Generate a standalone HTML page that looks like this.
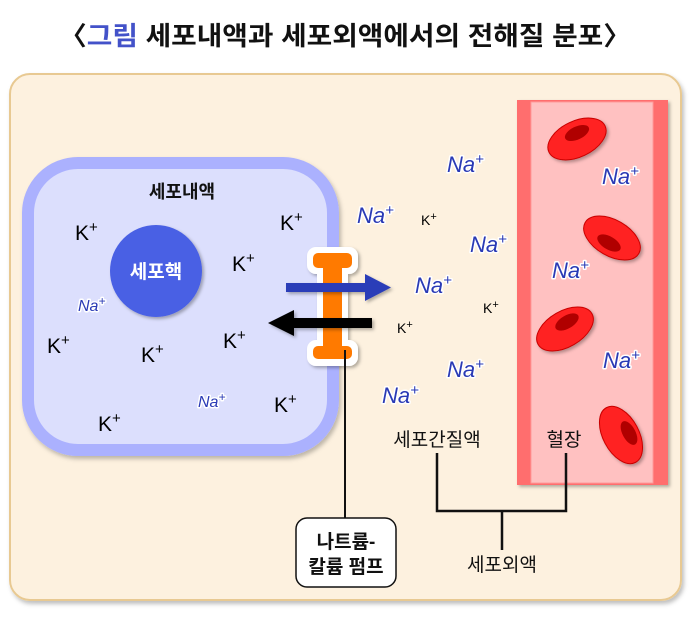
<!DOCTYPE html>
<html><head><meta charset="utf-8">
<style>
html,body{margin:0;padding:0;background:#fff;}
svg{display:block;}
.kr{font-family:"Liberation Sans","Noto Sans CJK KR",sans-serif;}
.k{font-family:"Liberation Sans",sans-serif;font-size:21px;fill:#000;}
.ks{font-family:"Liberation Sans",sans-serif;font-size:14px;fill:#000;}
.na{font-family:"Liberation Sans",sans-serif;font-style:italic;font-size:22px;fill:#2a3ab5;stroke:#fff;stroke-width:3;paint-order:stroke;stroke-linejoin:round;}
.nas{font-family:"Liberation Sans",sans-serif;font-style:italic;font-size:16px;fill:#2a3ab5;stroke:#fff;stroke-width:3;paint-order:stroke;stroke-linejoin:round;}
</style></head>
<body>
<svg width="690" height="623" viewBox="0 0 690 623" xmlns="http://www.w3.org/2000/svg">
<defs>
<filter id="sh" x="-10%" y="-10%" width="130%" height="130%"><feDropShadow dx="2" dy="3" stdDeviation="2" flood-color="#000" flood-opacity="0.25"/></filter>
<filter id="sh2" x="-20%" y="-20%" width="150%" height="150%"><feDropShadow dx="2" dy="2" stdDeviation="1.5" flood-color="#000" flood-opacity="0.3"/></filter>
</defs>

<!-- title -->
<text x="345" y="45" text-anchor="middle" class="kr" font-size="26" font-weight="bold" fill="#111" textLength="572" lengthAdjust="spacingAndGlyphs">〈<tspan fill="#4352c9">그림</tspan> 세포내액과 세포외액에서의 전해질 분포〉</text>

<!-- panel -->
<rect x="10" y="74" width="671" height="526" rx="20" fill="#fdf1df" stroke="#e8c992" stroke-width="2" filter="url(#sh)"/>

<!-- cell -->
<rect x="28" y="163" width="305" height="287" rx="50" fill="#dcdffd" stroke="#abb1fe" stroke-width="12" filter="url(#sh)"/>
<text x="182" y="198" text-anchor="middle" class="kr" font-size="18" font-weight="bold" fill="#111">세포내액</text>

<circle cx="156" cy="271" r="46" fill="#4a60e4" filter="url(#sh2)"/>
<text x="156" y="278" text-anchor="middle" class="kr" font-size="19" font-weight="bold" fill="#fff">세포핵</text>

<!-- K+ inside -->
<text class="k" x="75" y="240">K<tspan font-size="15" dy="-8">+</tspan></text>
<text class="k" x="280" y="230">K<tspan font-size="15" dy="-8">+</tspan></text>
<text class="k" x="232" y="271">K<tspan font-size="15" dy="-8">+</tspan></text>
<text class="k" x="47" y="353">K<tspan font-size="15" dy="-8">+</tspan></text>
<text class="k" x="141" y="362">K<tspan font-size="15" dy="-8">+</tspan></text>
<text class="k" x="223" y="348">K<tspan font-size="15" dy="-8">+</tspan></text>
<text class="k" x="98" y="431">K<tspan font-size="15" dy="-8">+</tspan></text>
<text class="k" x="274" y="412">K<tspan font-size="15" dy="-8">+</tspan></text>
<text class="nas" x="78" y="311">Na<tspan font-size="12" dy="-6">+</tspan></text>
<text class="nas" x="198" y="407">Na<tspan font-size="12" dy="-6">+</tspan></text>

<!-- blood vessel -->
<rect x="517" y="100" width="151" height="385" fill="#ff6e6e" filter="url(#sh2)"/>
<rect x="531" y="102" width="122" height="381" fill="#ffc1c1" stroke="#ff9a9a" stroke-width="1"/>

<!-- RBCs -->
<g filter="url(#sh2)">
<ellipse cx="577" cy="139" rx="31" ry="18" transform="rotate(-25 577 139)" fill="#ff2020" stroke="#c80000" stroke-width="1"/>
<ellipse cx="612" cy="238" rx="31" ry="18" transform="rotate(30 612 238)" fill="#ff2020" stroke="#c80000" stroke-width="1"/>
<ellipse cx="565" cy="329" rx="31" ry="18" transform="rotate(-30 565 329)" fill="#ff2020" stroke="#c80000" stroke-width="1"/>
<ellipse cx="621" cy="435" rx="31" ry="18" transform="rotate(62 621 435)" fill="#ff2020" stroke="#c80000" stroke-width="1"/>
</g>
<ellipse cx="577" cy="133" rx="13" ry="6.5" transform="rotate(-25 577 133)" fill="#b00000"/>
<ellipse cx="609" cy="243" rx="13" ry="6.5" transform="rotate(30 609 243)" fill="#b00000"/>
<ellipse cx="567" cy="322" rx="13" ry="6.5" transform="rotate(-30 567 322)" fill="#b00000"/>
<ellipse cx="629" cy="433" rx="13" ry="6.5" transform="rotate(62 629 433)" fill="#b00000"/>

<!-- Na+ in vessel -->
<text class="na" x="602" y="184">Na<tspan font-size="15" dy="-8">+</tspan></text>
<text class="na" x="552" y="278">Na<tspan font-size="15" dy="-8">+</tspan></text>
<text class="na" x="603" y="368">Na<tspan font-size="15" dy="-8">+</tspan></text>

<!-- Na+ interstitial -->
<text class="na" x="447" y="172">Na<tspan font-size="15" dy="-8">+</tspan></text>
<text class="na" x="357" y="223">Na<tspan font-size="15" dy="-8">+</tspan></text>
<text class="na" x="470" y="252">Na<tspan font-size="15" dy="-8">+</tspan></text>
<text class="na" x="415" y="293">Na<tspan font-size="15" dy="-8">+</tspan></text>
<text class="na" x="447" y="377">Na<tspan font-size="15" dy="-8">+</tspan></text>
<text class="na" x="382" y="403">Na<tspan font-size="15" dy="-8">+</tspan></text>
<text class="ks" x="421" y="225">K<tspan font-size="11" dy="-5">+</tspan></text>
<text class="ks" x="483" y="313">K<tspan font-size="11" dy="-5">+</tspan></text>
<text class="ks" x="397" y="333">K<tspan font-size="11" dy="-5">+</tspan></text>

<!-- pump -->
<g filter="url(#sh2)">
<rect x="307" y="247" width="51" height="27" rx="9" fill="#fff"/>
<rect x="317" y="255" width="31" height="100" fill="#fff"/>
<rect x="307" y="340" width="51" height="26" rx="9" fill="#fff"/>
</g>
<rect x="313" y="253" width="39" height="15" rx="5" fill="#ff7a00"/>
<rect x="323" y="260" width="19" height="92" fill="#ff7a00"/>
<rect x="313" y="346" width="39" height="13" rx="5" fill="#ff7a00"/>

<!-- arrows -->
<g filter="url(#sh2)">
<rect x="286" y="283" width="81" height="9" fill="#2b3db8"/>
<polygon points="365,274 391,287.5 365,301" fill="#2b3db8"/>
<rect x="291" y="318" width="81" height="10" fill="#000"/>
<polygon points="294,310 268,323 294,336" fill="#000"/>
</g>

<!-- pump label line -->
<line x1="345" y1="350" x2="345" y2="519" stroke="#111" stroke-width="2"/>
<rect x="296" y="518" width="100" height="69" rx="11" fill="#fff" stroke="#111" stroke-width="1.5"/>
<text x="346" y="548" text-anchor="middle" class="kr" font-size="19" font-weight="bold" fill="#111">나트륨-</text>
<text x="346" y="573" text-anchor="middle" class="kr" font-size="19" font-weight="bold" fill="#111">칼륨 펌프</text>

<!-- labels -->
<text x="437" y="446" text-anchor="middle" class="kr" font-size="19" fill="#111">세포간질액</text>
<text x="564" y="446" text-anchor="middle" class="kr" font-size="19" fill="#111">혈장</text>
<polyline points="437,453 437,511 566,511 566,453" fill="none" stroke="#111" stroke-width="2.5"/>
<line x1="502" y1="511" x2="502" y2="550" stroke="#111" stroke-width="2.5"/>
<text x="502" y="571" text-anchor="middle" class="kr" font-size="19" fill="#111">세포외액</text>
</svg>
</body></html>
